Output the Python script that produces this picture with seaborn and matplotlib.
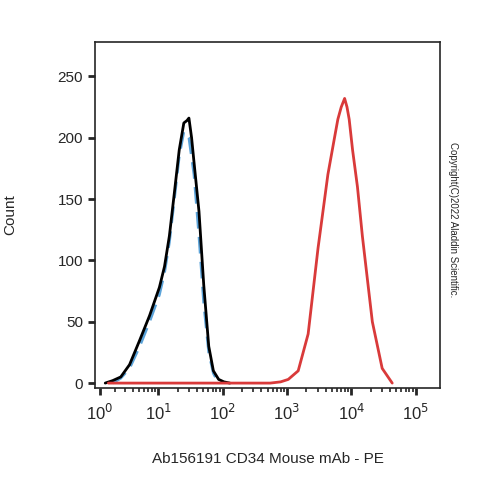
import matplotlib
matplotlib.use("Agg")
import matplotlib.pyplot as plt
import matplotlib.ticker as mticker
import numpy as np
import seaborn as sns

sns.set_style("ticks")
plt.rcParams['font.family'] = ['Liberation Sans', 'DejaVu Sans']

# fluorescence intensity / count
black_x = [1.3, 1.8, 2.5, 3.5, 5.1, 7.3, 10.4, 12.5, 14.9, 17.8, 21.2, 25, 28, 30, 33, 36, 43, 51, 61, 72, 87, 105, 130]
black_y = [0, 2, 5, 15, 35, 55, 78, 95, 120, 155, 190, 212, 214, 216, 200, 180, 140, 80, 30, 10, 3, 1, 0]
blue_x = [1.8, 2.5, 3.5, 5.1, 7.3, 10.4, 12.5, 14.9, 17.8, 21.2, 25, 30, 36, 43, 51, 61, 72, 87]
blue_y = [0, 4, 12, 30, 50, 72, 90, 115, 150, 185, 205, 200, 170, 120, 65, 25, 8, 0]
red_x = [1.5, 10, 100, 550, 800, 1050, 1500, 2140, 3050, 4340, 5500, 6200, 7000, 7900, 8600, 9300, 10500, 12500, 14900, 21300, 30300, 43400]
red_y = [0, 0, 0, 0, 1, 3, 10, 40, 110, 170, 200, 215, 225, 232, 225, 215, 190, 160, 120, 50, 12, 0]

fig, ax = plt.subplots(figsize=(5, 5), dpi=100)
fig.subplots_adjust(left=0.19, right=0.88, top=0.916, bottom=0.224)

ax.set_xscale("asinh", linear_width=1.1)
sns.lineplot(x=blue_x, y=blue_y, ax=ax, color="#5ba3d9", linewidth=2, linestyle=(0, (6, 3)))
sns.lineplot(x=black_x, y=black_y, ax=ax, color="black", linewidth=2)
sns.lineplot(x=red_x, y=red_y, ax=ax, color="#d93a3a", linewidth=2)

ax.set_xlim(0.75, 2.4e5)
ax.set_ylim(-4, 278)
majors = [1, 10, 100, 1e3, 1e4, 1e5]
ax.xaxis.set_major_locator(mticker.FixedLocator(majors))
ax.xaxis.set_major_formatter(mticker.FixedFormatter([r"10$^{%d}$" % i for i in range(6)]))
minors = [m * 10 ** d for d in range(5) for m in range(2, 10)]
ax.xaxis.set_minor_locator(mticker.FixedLocator(minors))
ax.set_yticks([0, 50, 100, 150, 200, 250])
ax.tick_params(axis="both", which="major", direction="out", length=5, width=2, labelsize=11)
ax.tick_params(axis="x", which="major", labelsize=12, pad=6)
ax.tick_params(axis="x", which="minor", direction="out", length=3, width=1.2)
for s in ax.spines.values():
    s.set_linewidth(1.2)

ax.set_xlabel("Ab156191 CD34 Mouse mAb - PE", fontsize=11)
ax.xaxis.set_label_coords(0.5, -0.185)
ax.set_ylabel("Count", fontsize=11)
ax.yaxis.set_label_coords(-0.225, 0.5)
fig.text(0.905, 0.56, "Copyright(C)2022 Aladdin Scientific.", rotation=270,
         fontsize=7, ha="center", va="center")

fig.savefig("out.png", dpi=100)
